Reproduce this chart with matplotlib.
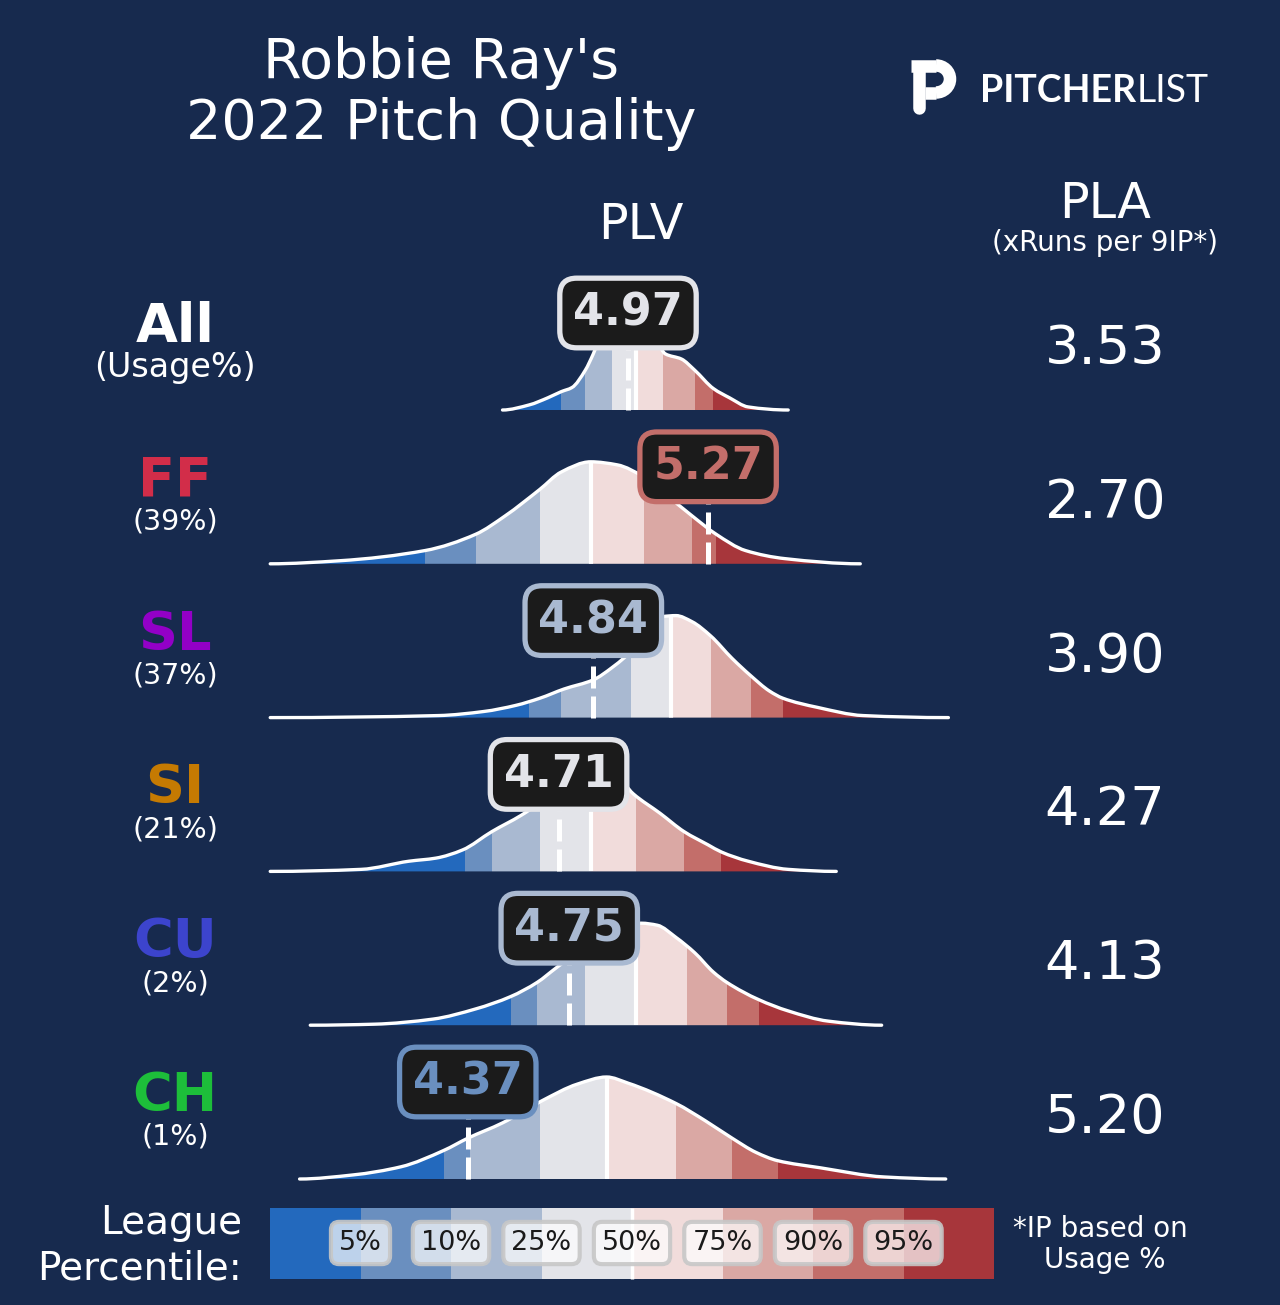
import numpy as np
import matplotlib
matplotlib.use('Agg')
import matplotlib.pyplot as plt
from matplotlib.path import Path
from matplotlib.patches import PathPatch, Rectangle, Arc

# ---------------- data ----------------
pitch_types = ['All', 'FF', 'SL', 'SI', 'CU', 'CH']
usage_labels = ['(Usage%)', '(39%)', '(37%)', '(21%)', '(2%)', '(1%)']
plv_values = [4.97, 5.27, 4.84, 4.71, 4.75, 4.37]
pla_values = [3.53, 2.70, 3.90, 4.27, 4.13, 5.20]
percentile_labels = ['5%', '10%', '25%', '50%', '75%', '90%', '95%']

# league PLV at the 5,10,25,50,75,90,95th percentiles
pct_all = [4.72, 4.81, 4.91, 5.00, 5.10, 5.22, 5.29]
pct_ff = [4.21, 4.40, 4.64, 4.83, 5.03, 5.21, 5.30]
pct_sl = [4.60, 4.72, 4.98, 5.13, 5.28, 5.43, 5.55]
pct_si = [4.36, 4.46, 4.64, 4.83, 5.00, 5.18, 5.32]
pct_cu = [4.53, 4.63, 4.81, 5.00, 5.19, 5.34, 5.46]
pct_ch = [4.28, 4.38, 4.64, 4.89, 5.15, 5.36, 5.53]

# league PLV density (relative height, peak = 1)
dens_all_x = [4.50, 4.60, 4.67, 4.72, 4.76, 4.81, 4.84, 4.88, 4.94, 5.00, 5.05, 5.11, 5.17, 5.22, 5.29, 5.35, 5.42, 5.57]
dens_all_y = [0.00, 0.05, 0.12, 0.18, 0.22, 0.39, 0.55, 0.80, 0.97, 1.00, 0.85, 0.55, 0.50, 0.39, 0.21, 0.12, 0.03, 0.00]
dens_ff_x = [3.63, 3.89, 4.21, 4.40, 4.51, 4.64, 4.72, 4.83, 4.93, 5.03, 5.13, 5.21, 5.30, 5.41, 5.56, 5.84]
dens_ff_y = [0.00, 0.03, 0.13, 0.29, 0.47, 0.73, 0.90, 1.00, 0.97, 0.85, 0.64, 0.47, 0.29, 0.13, 0.05, 0.00]
dens_sl_x = [3.63, 4.26, 4.43, 4.55, 4.64, 4.73, 4.84, 4.91, 5.01, 5.06, 5.10, 5.15, 5.21, 5.28, 5.36, 5.43, 5.50, 5.55, 5.68, 5.85, 6.17]
dens_sl_y = [0.00, 0.02, 0.06, 0.12, 0.19, 0.28, 0.37, 0.49, 0.72, 0.88, 0.99, 1.00, 0.94, 0.80, 0.58, 0.41, 0.26, 0.19, 0.10, 0.02, 0.00]
dens_si_x = [3.63, 3.97, 4.15, 4.25, 4.35, 4.46, 4.57, 4.72, 4.83, 4.92, 4.99, 5.09, 5.18, 5.27, 5.32, 5.42, 5.57, 5.75]
dens_si_y = [0.00, 0.02, 0.10, 0.13, 0.21, 0.39, 0.55, 0.82, 1.00, 0.95, 0.76, 0.57, 0.39, 0.26, 0.19, 0.10, 0.02, 0.00]
dens_cu_x = [3.78, 4.02, 4.24, 4.40, 4.53, 4.63, 4.70, 4.79, 4.90, 5.02, 5.08, 5.15, 5.22, 5.29, 5.34, 5.46, 5.57, 5.72, 5.92]
dens_cu_y = [0.00, 0.01, 0.06, 0.16, 0.28, 0.42, 0.56, 0.73, 0.90, 1.00, 0.98, 0.86, 0.71, 0.52, 0.42, 0.25, 0.14, 0.04, 0.00]
dens_ch_x = [3.74, 3.94, 4.12, 4.28, 4.37, 4.50, 4.65, 4.78, 4.89, 4.97, 5.15, 5.26, 5.36, 5.45, 5.53, 5.69, 5.93, 6.16]
dens_ch_y = [0.00, 0.04, 0.12, 0.28, 0.40, 0.55, 0.77, 0.93, 1.00, 0.94, 0.74, 0.57, 0.40, 0.26, 0.18, 0.11, 0.02, 0.00]

# ---------------- style ----------------
BG = '#172a4e'
pitch_colors = ['white', '#d22d49', '#9300c7', '#c57a02', '#3c44cd', '#1dbe3a']
band_colors = ['#2369bd', '#6a8fbf', '#a9b9d1', '#e3e4e9', '#f1dcdb', '#daa8a4', '#c36e6a', '#a7363b']
plt.rcParams['font.family'] = ['DejaVu Sans']

W, H = 1280, 1305
fig = plt.figure(figsize=(W / 100, H / 100), dpi=100, facecolor=BG)

# pixel-coordinate layout axes
axp = fig.add_axes([0, 0, 1, 1])
axp.set_xlim(0, W)
axp.set_ylim(H, 0)
axp.axis('off')
axp.patch.set_alpha(0)

# PLV-scale axes for the distributions (x: PLV, y: pixels)
PX_PER_PLV = 267.0
REF_PX, REF_PLV = 628.0, 4.97
axd = fig.add_axes([0, 0, 1, 1])
axd.set_xlim(REF_PLV - REF_PX / PX_PER_PLV, REF_PLV + (W - REF_PX) / PX_PER_PLV)
axd.set_ylim(H, 0)
axd.axis('off')
axd.patch.set_alpha(0)

ROW0, ROW_STEP, PEAK = 410.0, 153.8, 102.0


def smooth_verts(x, y):
    x = np.asarray(x, float)
    y = np.asarray(y, float)
    h = np.diff(x)
    d = np.diff(y) / h
    m = np.zeros_like(x)
    for k in range(1, len(x) - 1):
        if d[k - 1] * d[k] > 0:
            w1 = 2 * h[k] + h[k - 1]
            w2 = h[k] + 2 * h[k - 1]
            m[k] = (w1 + w2) / (w1 / d[k - 1] + w2 / d[k])
    verts = [(x[0], y[0])]
    codes = [Path.MOVETO]
    for k in range(len(x) - 1):
        verts += [(x[k] + h[k] / 3, y[k] + m[k] * h[k] / 3),
                  (x[k + 1] - h[k] / 3, y[k + 1] - m[k + 1] * h[k] / 3),
                  (x[k + 1], y[k + 1])]
        codes += [Path.CURVE4] * 3
    return verts, codes


densities = [(dens_all_x, dens_all_y, pct_all), (dens_ff_x, dens_ff_y, pct_ff),
             (dens_sl_x, dens_sl_y, pct_sl), (dens_si_x, dens_si_y, pct_si),
             (dens_cu_x, dens_cu_y, pct_cu), (dens_ch_x, dens_ch_y, pct_ch)]

for i, (dx, dy, pct) in enumerate(densities):
    base = ROW0 + i * ROW_STEP
    ypix = [base - v * PEAK for v in dy]
    verts, codes = smooth_verts(dx, ypix)
    closed = Path(verts + [(dx[-1], base), (dx[0], base), (dx[0], base)],
                  codes + [Path.LINETO, Path.LINETO, Path.CLOSEPOLY])
    clip = PathPatch(closed, fc='none', ec='none', zorder=1)
    axd.add_patch(clip)
    edges = [dx[0]] + list(pct) + [dx[-1]]
    for b in range(8):
        r = Rectangle((edges[b], base - 140), edges[b + 1] - edges[b], 141,
                      fc=band_colors[b], ec='none', zorder=2)
        axd.add_patch(r)
        r.set_clip_path(clip)
    med = pct[3]
    ml, = axd.plot([med, med], [base, base - 140], color='white', lw=3, zorder=3,
                   solid_capstyle='butt')
    ml.set_clip_path(clip)
    axd.add_patch(PathPatch(Path(verts, codes), fill=False, ec='white', lw=2.4,
                            zorder=4, capstyle='round'))

    # player's value
    v = plv_values[i]
    band = int(np.searchsorted(pct, v))
    c = band_colors[band]
    box_y = base - 97
    axd.plot([v, v], [base, box_y], color='white', lw=3.6, dashes=(4.4, 1.6),
             zorder=5, solid_capstyle='butt', dash_capstyle='butt')
    axd.text(v, box_y, f'{v:.2f}', ha='center', va='center', fontsize=32,
             fontweight='bold', color=c, zorder=7,
             bbox=dict(boxstyle='round,pad=0.3,rounding_size=0.38', fc='#1b1b1b',
                       ec=c, lw=3.8))

    # row labels
    axp.text(175, base - 68, pitch_types[i], ha='center', va='baseline',
             fontsize=39, fontweight='bold', color=pitch_colors[i])
    axp.text(175, base - 42, usage_labels[i], ha='center', va='center',
             fontsize=24 if i == 0 else 20.5, color='white')
    # PLA
    axp.text(1105, base - 46, f'{pla_values[i]:.2f}', ha='center', va='baseline',
             fontsize=39, color='white')

# ---------------- titles ----------------
axp.text(441, 78, "Robbie Ray's", ha='center', va='baseline', fontsize=40, color='white')
axp.text(441, 139, "2022 Pitch Quality", ha='center', va='baseline', fontsize=40, color='white')
axp.text(641, 239, 'PLV', ha='center', va='baseline', fontsize=35.5, color='white')
axp.text(1105, 218, 'PLA', ha='center', va='baseline', fontsize=35.5, color='white')
axp.text(1105, 243, '(xRuns per 9IP*)', ha='center', va='center', fontsize=20, color='white')

# logo
axp.plot([919, 919], [68, 108], color='white', lw=9, solid_capstyle='round')
axp.plot([911, 936], [65.5, 65.5], color='white', lw=9, solid_capstyle='butt')
axp.plot([925, 936], [92.5, 92.5], color='white', lw=9, solid_capstyle='butt')
axp.add_patch(Arc((936, 79.0), 28, 27, theta1=-90, theta2=90, color='white', lw=9))
axp.text(980, 102, 'PITCHER', ha='left', va='baseline', fontsize=27,
         fontweight='bold', color='white', family=['Lato', 'DejaVu Sans'])
axp.text(1137, 102, 'LIST', ha='left', va='baseline', fontsize=27,
         fontweight='normal', color='white', family=['Lato', 'DejaVu Sans'])

# ---------------- legend ----------------
LX0, LW, LY0, LH = 270.0, 90.5, 1208.0, 71.0
for b in range(8):
    axp.add_patch(Rectangle((LX0 + b * LW, LY0), LW, LH, fc=band_colors[b], ec='none'))
axp.plot([LX0 + 4 * LW, LX0 + 4 * LW], [LY0, LY0 + LH], color='white', lw=2.5,
         solid_capstyle='butt')
for j, lab in enumerate(percentile_labels):
    axp.text(LX0 + (j + 1) * LW, 1243, lab, ha='center', va='center', fontsize=19.5,
             color='#1a1a1a',
             bbox=dict(boxstyle='round,pad=0.3,rounding_size=0.3',
                       fc=(1, 1, 1, 0.7), ec=(0.78, 0.78, 0.78, 0.9), lw=3))

axp.text(242, 1234, 'League', ha='right', va='baseline', fontsize=28, color='white')
axp.text(242, 1279, 'Percentile:', ha='right', va='baseline', fontsize=28, color='white')
axp.text(1100, 1237, '*IP based on', ha='center', va='baseline', fontsize=20, color='white')
axp.text(1105, 1268, 'Usage %', ha='center', va='baseline', fontsize=20, color='white')

fig.savefig('out.png', dpi=100, facecolor=BG)
